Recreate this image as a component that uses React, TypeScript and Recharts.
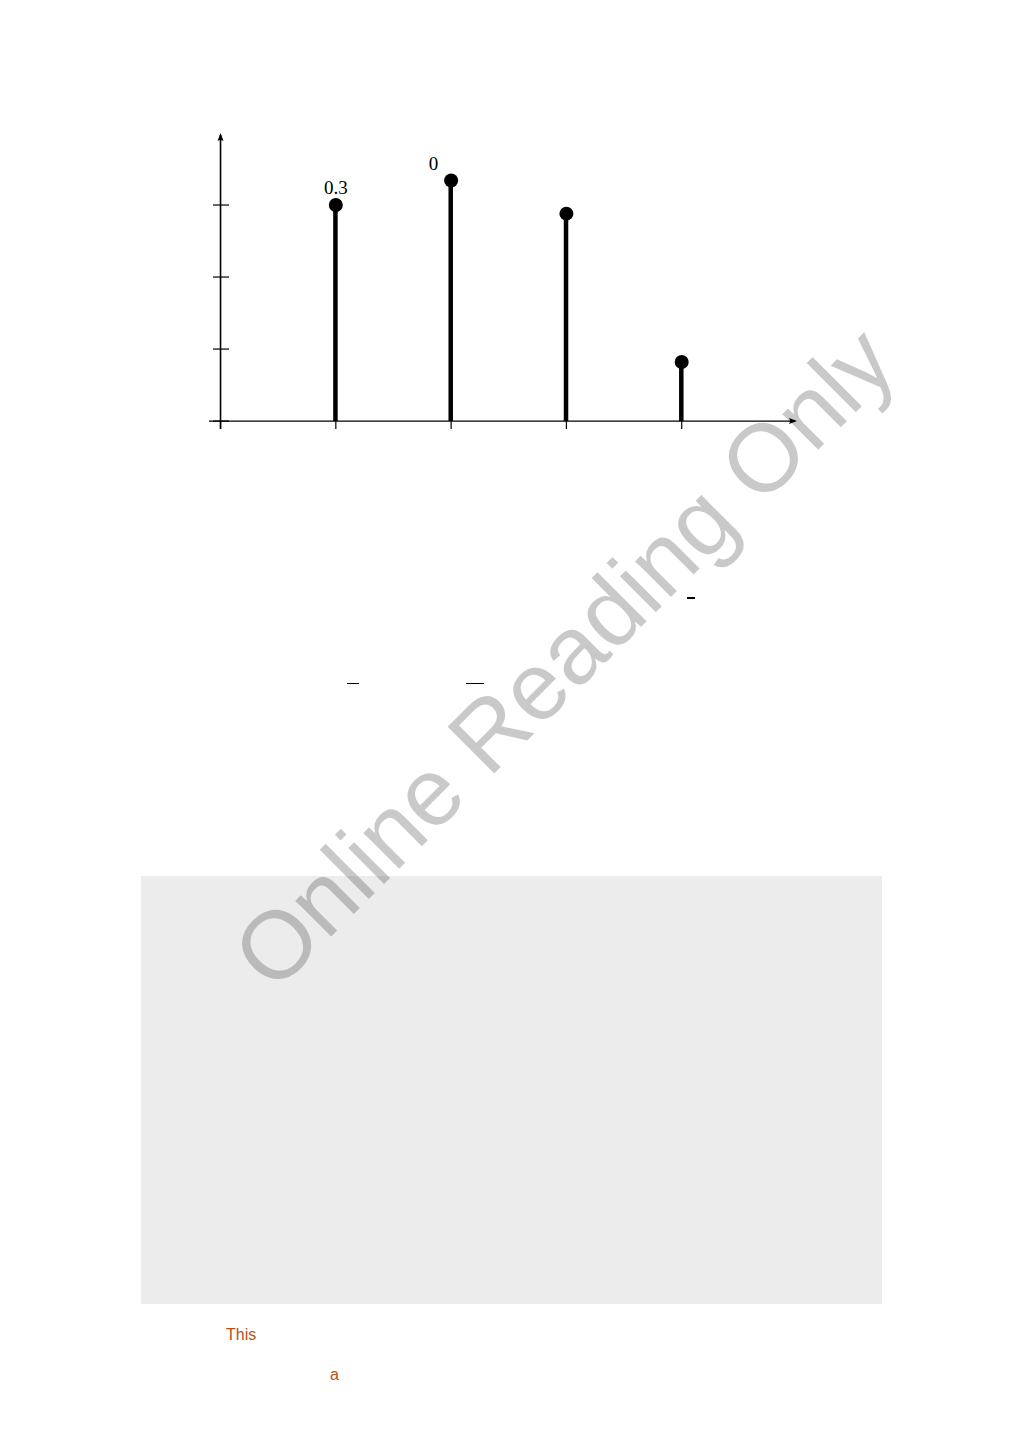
import React from "react";
import { ComposedChart, Bar, Scatter, XAxis, YAxis, ReferenceLine, LabelList } from "recharts";

// stem positions and heights
const stemX = [1, 2, 3, 4];
const stemY = [3.0, 3.34, 2.88, 0.82];
const stemLabels = ["0.3", "0", "", ""];
const xTicks = [0, 1, 2, 3, 4];
const yTicks = [0, 1, 2, 3];

const data = stemX.map((x, i) => ({ x, y: stemY[i], label: stemLabels[i] }));

const AxisArrow = (props: any) => {
    const { x1, y1, x2, y2, vertical } = props;
    if (vertical) {
        const top = Math.min(y1, y2);
        const bottom = Math.max(y1, y2);
        return (
            <g>
                <line x1={x1} x2={x1} y1={bottom} y2={top + 2} stroke="#000" strokeWidth={1.6} />
                <path d={`M${x1},${top} L${x1 - 3},${top + 8} Q${x1},${top + 6} ${x1 + 3},${top + 8} Z`} fill="#000" />
            </g>
        );
    }
    const left = Math.min(x1, x2);
    const right = Math.max(x1, x2);
    return (
        <g>
            <line x1={left} x2={right - 2} y1={y1} y2={y1} stroke="#000" strokeWidth={1.2} />
            <path d={`M${right},${y1} L${right - 8},${y1 - 3} Q${right - 6},${y1} ${right - 8},${y1 + 3} Z`} fill="#000" />
        </g>
    );
};

// ticks sit flush with the axis band: x tick hangs below y=0, y tick crosses x=0
const renderXTick = (props: any) => (
    <line key={`xt-${props.index}`} x1={props.x} x2={props.x} y1={props.y - 8} y2={props.y} stroke="#000" strokeWidth={1.2} />
);

const renderYTick = (props: any) => (
    <line key={`yt-${props.index}`} x1={props.x + 4} x2={props.x + 20} y1={props.y} y2={props.y} stroke="#000" strokeWidth={1.2} />
);

const Dot = (props: any) => <circle cx={props.cx} cy={props.cy} r={7} fill="#000" />;

const PointLabel = (props: any) => {
    const { x, y, width, value, index } = props;
    if (!value) return null;
    const cx = x + (width || 0) / 2;
    const dx = index === 1 ? -17.5 : 0;
    return (
        <text x={cx + dx} y={y - 6.5} textAnchor="middle" fontFamily="'Liberation Serif', 'Times New Roman', serif" fontSize={19} fill="#000">
            {value}
        </text>
    );
};

function StemChart() {
    return (
        <ComposedChart width={1009} height={460} data={data} margin={{ top: 133, right: 212, bottom: 11, left: 189 }}>
            <XAxis
                dataKey="x"
                type="number"
                domain={[-0.1, 5]}
                allowDataOverflow
                ticks={xTicks}
                interval={0}
                height={20}
                tickSize={0}
                tickMargin={0}
                axisLine={false}
                tickLine={false}
                tick={renderXTick}
            />
            <YAxis
                type="number"
                domain={[-0.11, 4]}
                allowDataOverflow
                ticks={yTicks}
                interval={0}
                width={20}
                tickSize={0}
                tickMargin={0}
                axisLine={false}
                tickLine={false}
                tick={renderYTick}
            />
            <Bar dataKey="y" barSize={4.5} fill="#000" isAnimationActive={false} />
            <Scatter dataKey="y" shape={<Dot />} isAnimationActive={false}>
                <LabelList dataKey="label" content={<PointLabel />} />
            </Scatter>
            <ReferenceLine x={0} shape={<AxisArrow vertical />} />
            <ReferenceLine y={0} shape={<AxisArrow />} />
        </ComposedChart>
    );
}

export default function App() {
    return (
        <div style={{ position: "absolute", left: 0, top: 0, width: 1009, height: 1441, background: "#fff", overflow: "hidden" }}>
            <div style={{ position: "absolute", left: 0, top: 0 }}>
                <StemChart />
            </div>
            {/* stray fraction bars left over in the page */}
            <div style={{ position: "absolute", left: 347, top: 683, width: 12, height: 1, background: "#000" }} />
            <div style={{ position: "absolute", left: 466, top: 683, width: 18, height: 1, background: "#000" }} />
            <div style={{ position: "absolute", left: 687, top: 597, width: 8, height: 2, background: "#000" }} />
            <div style={{ position: "absolute", left: 141, top: 876, width: 741, height: 428, background: "#ececec" }} />
            <div style={{ position: "absolute", left: 226, top: 1326, fontFamily: "'Liberation Sans', Arial, sans-serif", fontSize: 16, color: "#b84f16", lineHeight: "18px" }}>This</div>
            <div style={{ position: "absolute", left: 330, top: 1366, fontFamily: "'Liberation Sans', Arial, sans-serif", fontSize: 16, color: "#b84f16", lineHeight: "18px" }}>a</div>
            <svg width={1009} height={1441} style={{ position: "absolute", left: 0, top: 0, pointerEvents: "none" }}>
                <g transform="translate(570,664) rotate(-45)">
                    <text x={0} y={24} textAnchor="middle" fontFamily="'Liberation Sans', Arial, sans-serif" fontSize={96} fill="rgba(0,0,0,0.21)">
                        Online Reading Only
                    </text>
                </g>
            </svg>
        </div>
    );
}
